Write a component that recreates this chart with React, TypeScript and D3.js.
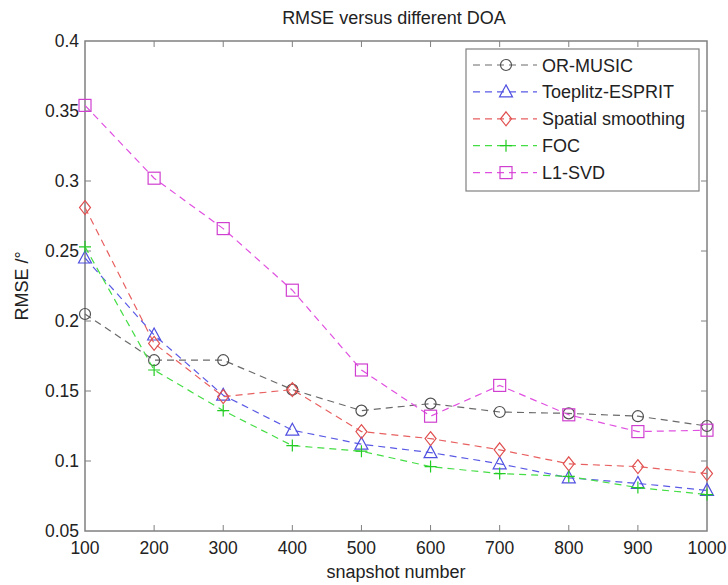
import React from "react";
import * as d3 from "d3";

const snapshots = [100, 200, 300, 400, 500, 600, 700, 800, 900, 1000];
const orMusic = [0.205, 0.172, 0.172, 0.151, 0.136, 0.141, 0.135, 0.134, 0.132, 0.125];
const toeplitzEsprit = [0.245, 0.19, 0.147, 0.122, 0.112, 0.106, 0.098, 0.088, 0.084, 0.079];
const spatialSmoothing = [0.281, 0.184, 0.146, 0.151, 0.121, 0.116, 0.108, 0.098, 0.096, 0.091];
const foc = [0.253, 0.165, 0.136, 0.111, 0.107, 0.096, 0.091, 0.089, 0.081, 0.076];
const l1Svd = [0.354, 0.302, 0.266, 0.222, 0.165, 0.132, 0.154, 0.133, 0.121, 0.122];
const xTicks = [100, 200, 300, 400, 500, 600, 700, 800, 900, 1000];
const yTicks = [0.05, 0.1, 0.15, 0.2, 0.25, 0.3, 0.35, 0.4];
const seriesNames = ["OR-MUSIC", "Toeplitz-ESPRIT", "Spatial smoothing", "FOC", "L1-SVD"];

type Marker = "circle" | "triangle" | "diamond" | "plus" | "square";
const seriesStyles: { line: string; marker: string; shape: Marker }[] = [
  { line: "#6a6a6a", marker: "#505050", shape: "circle" },
  { line: "#5a5ae6", marker: "#5050e0", shape: "triangle" },
  { line: "#e86060", marker: "#e05050", shape: "diamond" },
  { line: "#44dd44", marker: "#22cc22", shape: "plus" },
  { line: "#e050e0", marker: "#d040d0", shape: "square" },
];

const W = 728;
const H = 585;
const left = 85;
const right = 707;
const top = 41;
const bottom = 531;
const font = "'Liberation Sans', Arial, Helvetica, sans-serif";
const axisColor = "#808080";
const textColor = "#222";

function MarkerShape({ shape, x, y, color }: { shape: Marker; x: number; y: number; color: string }) {
  const common = { fill: "none", stroke: color, strokeWidth: 1.2 };
  switch (shape) {
    case "circle":
      return <circle cx={x} cy={y} r={5.5} {...common} />;
    case "triangle":
      return <path d={`M${x},${y - 7} L${x + 6.5},${y + 5} L${x - 6.5},${y + 5} Z`} {...common} />;
    case "diamond":
      return <path d={`M${x},${y - 7} L${x + 5.5},${y} L${x},${y + 7} L${x - 5.5},${y} Z`} {...common} />;
    case "plus":
      return <path d={`M${x - 6},${y} L${x + 6},${y} M${x},${y - 6} L${x},${y + 6}`} {...common} />;
    case "square":
      return <rect x={x - 6} y={y - 6} width={12} height={12} {...common} />;
  }
}

export default function App() {
  const x = d3.scaleLinear().domain([100, 1000]).range([left, right]);
  const y = d3.scaleLinear().domain([0.05, 0.4]).range([bottom, top]);
  const data = [orMusic, toeplitzEsprit, spatialSmoothing, foc, l1Svd];
  const line = d3
    .line<number>()
    .x((_, i) => x(snapshots[i]))
    .y((d) => y(d));

  const legX = 466;
  const legY = 49;
  const legW = 233;
  const legH = 142;
  const rowY = (i: number) => 65 + i * 26.9;

  return (
    <svg
      width={W}
      height={H}
      style={{ position: "absolute", left: 0, top: 0, background: "#fff" }}
      fontFamily={font}
    >
      <rect x={0} y={0} width={W} height={H} fill="#fff" />
      <rect x={left} y={top} width={right - left} height={bottom - top} fill="none" stroke={axisColor} strokeWidth={1.5} />
      {xTicks.map((t) => (
        <g key={"x" + t}>
          {t !== 100 && t !== 1000 && (
            <>
              <line x1={x(t)} x2={x(t)} y1={bottom} y2={bottom - 6} stroke={axisColor} />
              <line x1={x(t)} x2={x(t)} y1={top} y2={top + 6} stroke={axisColor} />
            </>
          )}
          <text x={x(t)} y={554} textAnchor="middle" fontSize={17.5} fill={textColor}>
            {t}
          </text>
        </g>
      ))}
      {yTicks.map((t) => (
        <g key={"y" + t}>
          {t !== 0.05 && t !== 0.4 && (
            <>
              <line x1={left} x2={left + 6} y1={y(t)} y2={y(t)} stroke={axisColor} />
              <line x1={right} x2={right - 6} y1={y(t)} y2={y(t)} stroke={axisColor} />
            </>
          )}
          <text x={79} y={y(t) + 6} textAnchor="end" fontSize={17.5} fill={textColor}>
            {d3.format("")(+t.toFixed(2))}
          </text>
        </g>
      ))}
      <text x={394} y={24} textAnchor="middle" fontSize={18} fill={textColor}>
        RMSE versus different DOA
      </text>
      <text x={(left + right) / 2} y={578} textAnchor="middle" fontSize={18} fill={textColor}>
        snapshot number
      </text>
      <text
        transform={`translate(28,${(top + bottom) / 2}) rotate(-90)`}
        textAnchor="middle"
        fontSize={18}
        fill={textColor}
      >
        RMSE /°
      </text>
      {data.map((vals, si) => (
        <g key={"s" + si}>
          <path d={line(vals) || ""} fill="none" stroke={seriesStyles[si].line} strokeWidth={1.2} strokeDasharray="7,5" />
          {vals.map((v, i) => (
            <MarkerShape key={i} shape={seriesStyles[si].shape} x={x(snapshots[i])} y={y(v)} color={seriesStyles[si].marker} />
          ))}
        </g>
      ))}
      <rect x={legX} y={legY} width={legW} height={legH} fill="#fff" stroke={axisColor} strokeWidth={1.2} />
      {seriesNames.map((name, i) => (
        <g key={"l" + i}>
          <line x1={473} x2={537} y1={rowY(i)} y2={rowY(i)} stroke={seriesStyles[i].line} strokeWidth={1.2} strokeDasharray="7,5" />
          <MarkerShape shape={seriesStyles[i].shape} x={506} y={rowY(i)} color={seriesStyles[i].marker} />
          <text x={542} y={rowY(i) + 6.5} fontSize={18} fill={textColor}>
            {name}
          </text>
        </g>
      ))}
    </svg>
  );
}
